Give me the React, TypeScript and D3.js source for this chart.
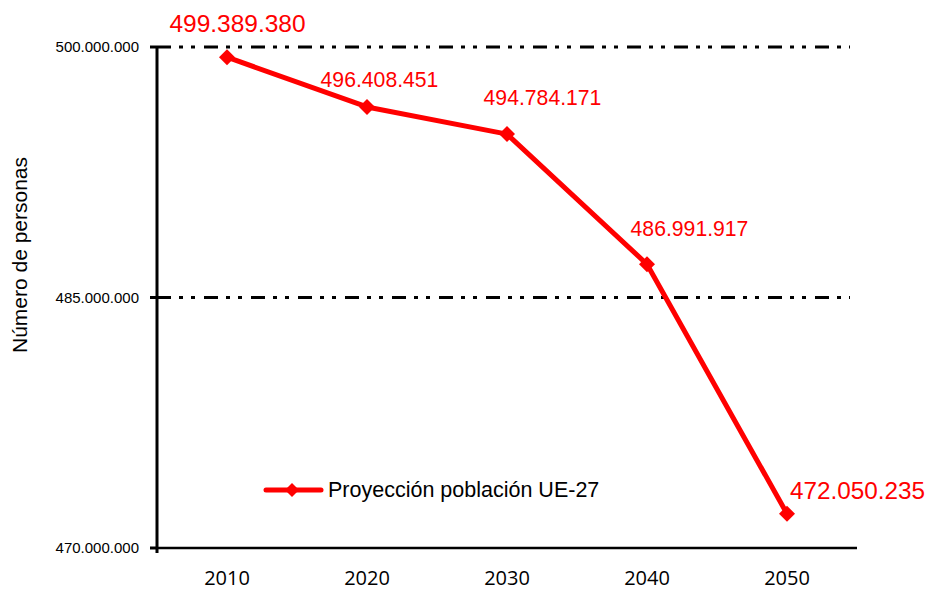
import React from "react";
import * as d3 from "d3";

const years = ["2010", "2020", "2030", "2040", "2050"];
const population = [499389380, 496408451, 494784171, 486991917, 472050235];
const valueLabels = ["499.389.380", "496.408.451", "494.784.171", "486.991.917", "472.050.235"];
const yTicks = [470000000, 485000000, 500000000];
const yTickLabels = ["470.000.000", "485.000.000", "500.000.000"];
const seriesName = "Proyección población UE-27";

const labelOffsets = [
  { dx: 10.5, dy: -25, size: 24.5 },
  { dx: 12.5, dy: -20, size: 21.2 },
  { dx: 35.5, dy: -29, size: 21.2 },
  { dx: 42.5, dy: -28, size: 21.2 },
  { dx: 70.5, dy: -15, size: 24.3 },
];

export default function App() {
  const W = 930, H = 591;
  const left = 157, right = 857, top = 47, bottom = 548;
  const x = d3.scaleBand<string>().domain(years).range([left, right]);
  const y = d3.scaleLinear().domain([470000000, 500000000]).range([bottom, top]);
  const cx = (yr: string) => (x(yr) as number) + x.bandwidth() / 2;
  const line = d3
    .line<number>()
    .x((_, i) => cx(years[i]))
    .y((d) => y(d));
  const font = "'Liberation Sans', Arial, sans-serif";
  const diamond = (px: number, py: number, r: number) =>
    `M${px},${py - r}L${px + r},${py}L${px},${py + r}L${px - r},${py}Z`;

  return (
    <svg width={W} height={H} style={{ position: "absolute", left: 0, top: 0, background: "#fff" }}>
      {yTicks
        .filter((t) => t !== 470000000)
        .map((t) => (
          <line
            key={"g" + t}
            x1={left}
            x2={850}
            y1={y(t)}
            y2={y(t)}
            stroke="#000"
            strokeWidth={3}
            strokeDasharray="14 8 4 8 4 9"
          />
        ))}
      <line x1={left} x2={left} y1={top - 1} y2={bottom + 5} stroke="#000" strokeWidth={3} />
      <line x1={left} x2={right} y1={bottom} y2={bottom} stroke="#000" strokeWidth={2.5} />
      {yTicks.map((t, i) => (
        <g key={"t" + t}>
          <line x1={left - 7} x2={left} y1={y(t)} y2={y(t)} stroke="#000" strokeWidth={3} />
          <text
            x={left - 18}
            y={y(t) + 5}
            textAnchor="end"
            fontFamily={font}
            fontSize={15}
            fill="#000"
          >
            {yTickLabels[i]}
          </text>
        </g>
      ))}
      {years.map((yr) => (
        <text
          key={yr}
          x={cx(yr)}
          y={585}
          textAnchor="middle"
          fontFamily="'Open Sans', sans-serif"
          fontSize={20}
          fill="#000"
        >
          {yr}
        </text>
      ))}
      <text
        transform={`translate(27,255) rotate(-90)`}
        textAnchor="middle"
        fontFamily={font}
        fontSize={20}
        textLength={196}
        lengthAdjust="spacingAndGlyphs"
        fill="#000"
      >
        Número de personas
      </text>
      <path d={line(population) as string} fill="none" stroke="#ff0000" strokeWidth={5} strokeLinejoin="round" />
      {population.map((v, i) => (
        <path key={"m" + i} d={diamond(cx(years[i]), y(v), 8)} fill="#ff0000" />
      ))}
      {population.map((v, i) => (
        <text
          key={"l" + i}
          x={cx(years[i]) + labelOffsets[i].dx}
          y={y(v) + labelOffsets[i].dy}
          textAnchor="middle"
          fontFamily={font}
          fontSize={labelOffsets[i].size}
          fill="#ff0000"
        >
          {valueLabels[i]}
        </text>
      ))}
      <line x1={266} x2={321} y1={490} y2={490} stroke="#ff0000" strokeWidth={5} strokeLinecap="round" />
      <path d={diamond(292, 490, 7)} fill="#ff0000" />
      <text x={328} y={497} fontFamily={font} fontSize={21.5} fill="#000">
        {seriesName}
      </text>
    </svg>
  );
}
